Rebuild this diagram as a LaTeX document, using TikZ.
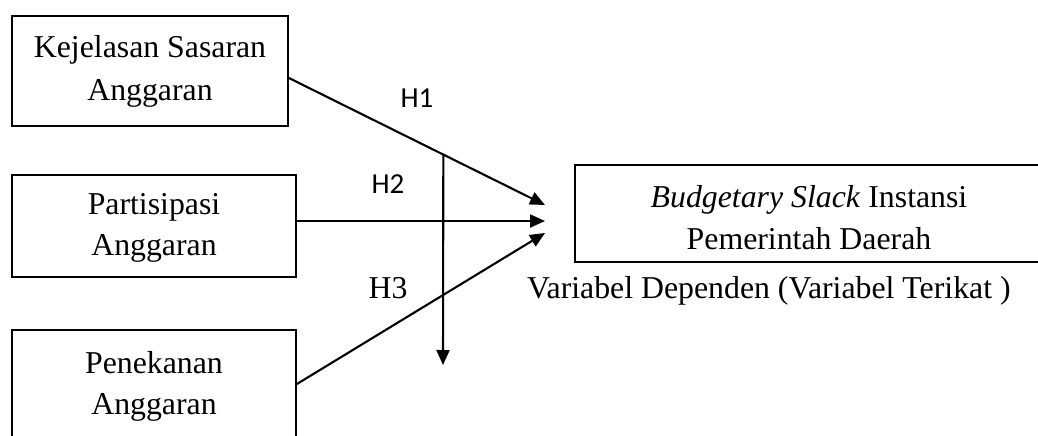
\documentclass[tikz,border=0pt]{standalone}
\usepackage{fontspec}
\setmainfont{Liberation Serif}
\newfontfamily\calib{Carlito}
\usetikzlibrary{arrows.meta}
\newcommand\myraise[1]{\rule{0pt}{#1pt}}
\tikzset{
  box/.style={draw, line width=1.8pt, align=center, inner sep=0pt,
    font=\fontsize{31.8}{42}\selectfont},
  arr/.style={line width=2.1pt, -{Triangle[length=15pt,width=13pt]}},
  hlab/.style={font=\calib\fontsize{29}{34}\selectfont, inner sep=0pt},
  slab/.style={font=\fontsize{31.8}{38}\selectfont, inner sep=0pt}
}
\begin{document}
\begin{tikzpicture}[x=1pt,y=-1pt]
\useasboundingbox (0,0) rectangle (1038,436);
\node[box, minimum width=276pt, minimum height=110pt, font=\fontsize{31.8}{43}\selectfont] (k1) at (150,71) {Kejelasan Sasaran\\Anggaran};
\node[box, minimum width=284pt, minimum height=102pt, font=\fontsize{31.8}{41}\selectfont] (k2) at (154,226) {\myraise{25}Partisipasi\\Anggaran};
\node[box, minimum width=284pt, minimum height=108pt, font=\fontsize{31.8}{41.5}\selectfont] (k3) at (154,384) {\myraise{27}Penekanan\\Anggaran};
\node[box, minimum width=468pt, minimum height=97pt, font=\fontsize{31.8}{42}\selectfont] (dep) at (809,213.5) {\myraise{31}\textit{Budgetary Slack} Instansi\\Pemerintah Daerah};
\node[slab, anchor=base west] (vd) at (527,298) {Variabel Dependen (Variabel Terikat )};
\coordinate (t1) at (545,205);
\coordinate (t2) at (545,221);
\coordinate (t3) at (545,233);
\coordinate (b) at (443,365);
\draw[arr] ([yshift=-7pt]k1.east) -- coordinate[pos=0.603] (m) (t1);
\draw[arr] ([yshift=5pt]k2.east) -- (t2);
\draw[arr] (k3.east) -- (t3);
\draw[arr] (m) -- (b);
\node[hlab] (h1) at (417,98) {H1};
\node[hlab] (h2) at (388,184) {H2};
\node[slab, anchor=base] (h3) at (388,298) {H3};
\end{tikzpicture}
\end{document}
